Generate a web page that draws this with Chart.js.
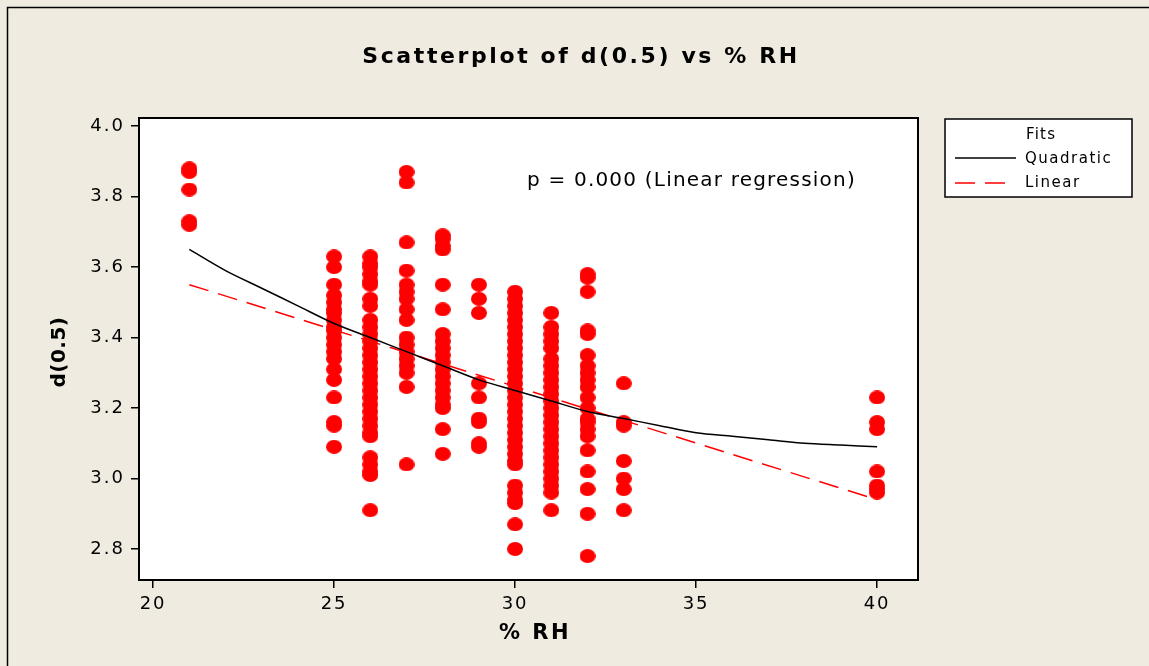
<!DOCTYPE html>
<html>
<head>
<meta charset="utf-8">
<title>Scatterplot of d(0.5) vs % RH</title>
<script src="https://cdn.jsdelivr.net/npm/chart.js@4/dist/chart.umd.min.js"></script>
<style>
  html, body { margin: 0; padding: 0; background: #efebe1; }
  #wrap { width: 1149px; height: 666px; }
</style>
</head>
<body>
<div id="wrap"><canvas id="myChart" width="1149" height="666"></canvas></div>
<script>
// % RH levels and the d(0.5) readings taken at each level
var rhLevels = [21, 25, 26, 27, 28, 29, 30, 31, 32, 33, 40];
var d05 = [
  [3.88, 3.87, 3.82, 3.73, 3.72],
  [3.63, 3.60, 3.55, 3.52, 3.50, 3.48, 3.47, 3.45, 3.43, 3.42, 3.40, 3.38, 3.36, 3.34, 3.31, 3.28, 3.23, 3.16, 3.15, 3.09],
  [3.63, 3.61, 3.60, 3.58, 3.56, 3.55, 3.51, 3.49, 3.45, 3.43, 3.41, 3.39, 3.37, 3.35, 3.33, 3.31, 3.29, 3.27, 3.25, 3.23, 3.21, 3.19, 3.17, 3.15, 3.13, 3.12, 3.06, 3.04, 3.02, 3.01, 2.91],
  [3.87, 3.84, 3.67, 3.59, 3.55, 3.53, 3.51, 3.48, 3.45, 3.40, 3.38, 3.36, 3.34, 3.32, 3.30, 3.26, 3.04],
  [3.69, 3.68, 3.66, 3.65, 3.55, 3.48, 3.41, 3.39, 3.37, 3.35, 3.33, 3.31, 3.29, 3.27, 3.25, 3.23, 3.21, 3.20, 3.14, 3.07],
  [3.55, 3.51, 3.47, 3.27, 3.23, 3.17, 3.16, 3.10, 3.09],
  [3.53, 3.51, 3.49, 3.47, 3.45, 3.43, 3.41, 3.39, 3.37, 3.35, 3.33, 3.31, 3.29, 3.27, 3.25, 3.23, 3.21, 3.19, 3.17, 3.15, 3.13, 3.11, 3.09, 3.07, 3.05, 3.04, 2.98, 2.96, 2.94, 2.93, 2.87, 2.80],
  [3.47, 3.43, 3.41, 3.39, 3.37, 3.34, 3.32, 3.30, 3.28, 3.26, 3.24, 3.22, 3.20, 3.18, 3.16, 3.14, 3.12, 3.10, 3.08, 3.06, 3.04, 3.02, 3.00, 2.98, 2.96, 2.91],
  [3.58, 3.57, 3.53, 3.42, 3.41, 3.35, 3.32, 3.30, 3.28, 3.26, 3.23, 3.20, 3.17, 3.16, 3.14, 3.12, 3.08, 3.02, 2.97, 2.90, 2.78],
  [3.27, 3.16, 3.15, 3.05, 3.00, 2.97, 2.91],
  [3.23, 3.16, 3.14, 3.02, 2.98, 2.97, 2.96]
];

// fitted lines
var fitRh = [21, 22, 23, 24, 25, 26, 27, 28, 29, 30, 31, 32, 33, 34, 35, 36, 37, 38, 39, 40];
var quadFit = [3.65, 3.59, 3.54, 3.49, 3.44, 3.40, 3.36, 3.32, 3.28, 3.25, 3.22, 3.19, 3.17, 3.15, 3.13, 3.12, 3.11, 3.10, 3.095, 3.09];
var linRh = [21, 40];
var linFit = [3.55, 2.94];

var xTicks = [20, 25, 30, 35, 40];
var yTicks = [2.8, 3.0, 3.2, 3.4, 3.6, 3.8, 4.0];

var FONT = "'DejaVu Sans', sans-serif";

function toXY(xs, ys) {
  return xs.map(function (x, i) { return { x: x, y: ys[i] }; });
}

var points = [];
rhLevels.forEach(function (rh, i) {
  d05[i].forEach(function (v) { points.push({ x: rh, y: v }); });
});

// Minitab style slightly flattened dot
var dot = document.createElement('canvas');
dot.width = 16; dot.height = 14;
var dctx = dot.getContext('2d');
dctx.fillStyle = '#ff0000';
dctx.beginPath();
dctx.ellipse(8, 7, 8, 7, 0, 0, Math.PI * 2);
dctx.fill();

function spacedText(ctx, text, x, y, font, spacing, align) {
  ctx.save();
  ctx.font = font;
  ctx.letterSpacing = spacing + 'px';
  ctx.fillStyle = '#000';
  ctx.textAlign = align || 'left';
  ctx.textBaseline = 'middle';
  ctx.fillText(text, x, y);
  ctx.restore();
}

var decor = {
  id: 'decor',
  beforeDraw: function (chart) {
    var ctx = chart.ctx, a = chart.chartArea;
    ctx.save();
    ctx.fillStyle = '#efebe1';
    ctx.fillRect(0, 0, chart.width, chart.height);
    ctx.fillStyle = '#ffffff';
    ctx.fillRect(a.left, a.top, a.right - a.left, a.bottom - a.top);
    ctx.restore();
    // spaced tick labels like the original
    ctx.letterSpacing = '2px';
  },
  afterDraw: function (chart) {
    var ctx = chart.ctx, a = chart.chartArea;
    ctx.letterSpacing = '0px';
    ctx.save();
    ctx.strokeStyle = '#000';
    ctx.lineWidth = 2;
    ctx.strokeRect(a.left, a.top, a.right - a.left, a.bottom - a.top);
    // outer frame (top and left edges show)
    ctx.lineWidth = 1.5;
    ctx.beginPath();
    ctx.moveTo(7.5, chart.height);
    ctx.lineTo(7.5, 7.5);
    ctx.lineTo(chart.width, 7.5);
    ctx.stroke();
    ctx.restore();

    spacedText(ctx, 'Scatterplot of d(0.5) vs % RH', 581, 57, 'bold 22px ' + FONT, 2.6, 'center');
    spacedText(ctx, 'p = 0.000 (Linear regression)', 527, 181, '20px ' + FONT, 1.2, 'left');
    spacedText(ctx, '% RH', 535, 634, 'bold 21px ' + FONT, 2.5, 'center');
    ctx.save();
    ctx.translate(60, 352);
    ctx.rotate(-Math.PI / 2);
    spacedText(ctx, 'd(0.5)', 0, 0, 'bold 20px ' + FONT, 0.5, 'center');
    ctx.restore();

    // legend box
    ctx.save();
    ctx.fillStyle = '#fff';
    ctx.fillRect(945, 119, 187, 78);
    ctx.strokeStyle = '#000';
    ctx.lineWidth = 1.5;
    ctx.strokeRect(945, 119, 187, 78);
    var q = chart.data.datasets[0], l = chart.data.datasets[1];
    ctx.lineWidth = q.borderWidth;
    ctx.strokeStyle = q.borderColor;
    ctx.beginPath(); ctx.moveTo(955, 158); ctx.lineTo(1016, 158); ctx.stroke();
    ctx.strokeStyle = l.borderColor;
    ctx.lineWidth = l.borderWidth;
    ctx.setLineDash(l.borderDash);
    ctx.beginPath(); ctx.moveTo(955, 183); ctx.lineTo(1010, 183); ctx.stroke();
    ctx.restore();
    spacedText(ctx, 'Fits', 1026, 135, '15px ' + FONT, 1.2, 'left');
    spacedText(ctx, q.label, 1025, 159, '15px ' + FONT, 1.5, 'left');
    spacedText(ctx, l.label, 1025, 183, '15px ' + FONT, 1.5, 'left');
  }
};

var ctx = document.getElementById('myChart').getContext('2d');
var chart = new Chart(ctx, {
  type: 'scatter',
  data: {
    datasets: [{
      type: 'line',
      label: 'Quadratic',
      data: toXY(fitRh, quadFit),
      borderColor: '#000000',
      borderWidth: 1.5,
      pointRadius: 0,
      fill: false,
      tension: 0.3,
      order: 0
    }, {
      type: 'line',
      label: 'Linear',
      data: toXY(linRh, linFit),
      borderColor: '#ff0000',
      borderWidth: 1.5,
      borderDash: [20, 10],
      pointRadius: 0,
      fill: false,
      order: 1
    }, {
      label: 'd(0.5)',
      data: points,
      pointStyle: dot,
      pointRadius: 8,
      backgroundColor: '#ff0000',
      borderWidth: 0,
      order: 2
    }]
  },
  options: {
    responsive: false,
    animation: false,
    devicePixelRatio: 1,
    layout: { autoPadding: false, padding: { left: 79, top: 118, right: 231, bottom: 36 } },
    plugins: { legend: { display: false }, tooltip: { enabled: false }, title: { display: false } },
    scales: {
      x: {
        type: 'linear',
        min: 19.61,
        max: 41.13,
        afterFit: function (s) { s.height = 50; },
        afterBuildTicks: function (s) { s.ticks = xTicks.map(function (v) { return { value: v }; }); },
        grid: { drawOnChartArea: false, drawTicks: true, tickLength: 8, color: '#000', lineWidth: 1.5 },
        border: { display: true, color: '#000', width: 2 },
        ticks: { font: { family: FONT, size: 18 }, color: '#000', padding: 6, maxRotation: 0 }
      },
      y: {
        type: 'linear',
        min: 2.712,
        max: 4.023,
        afterFit: function (s) { s.width = 60; },
        afterBuildTicks: function (s) { s.ticks = yTicks.map(function (v) { return { value: v }; }); },
        grid: { drawOnChartArea: false, drawTicks: true, tickLength: 8, color: '#000', lineWidth: 1.5 },
        border: { display: true, color: '#000', width: 2 },
        ticks: {
          font: { family: FONT, size: 18 }, color: '#000', padding: 6,
          callback: function (v) { return v.toFixed(1); }
        }
      }
    }
  },
  plugins: [decor]
});
</script>
</body>
</html>
